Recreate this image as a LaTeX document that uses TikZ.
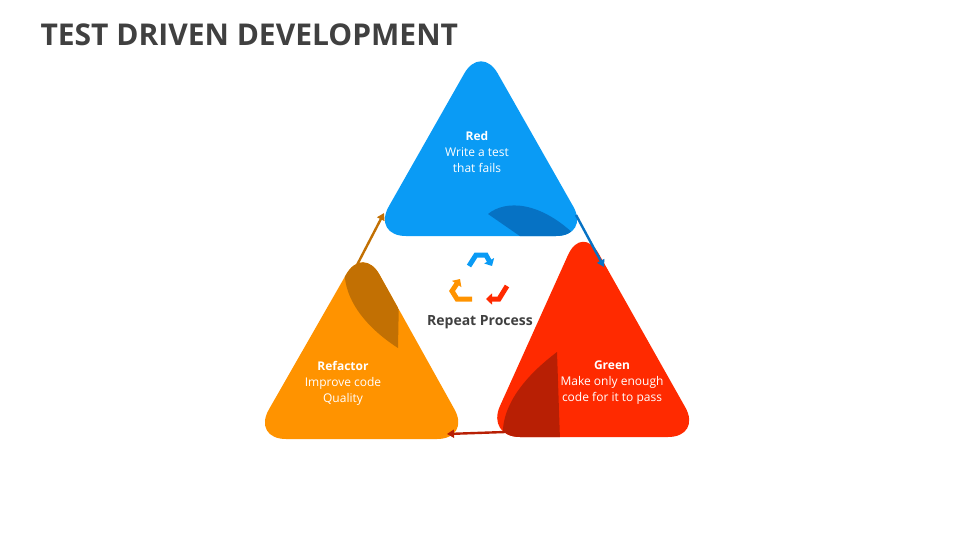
\documentclass[tikz,border=0pt]{standalone}
\usepackage{fontspec}
\setmainfont{Open Sans}
\usetikzlibrary{arrows.meta}
\definecolor{tblue}{HTML}{0A9BF5}
\definecolor{dblue}{HTML}{0672C4}
\definecolor{tred}{HTML}{FF2A00}
\definecolor{dred}{HTML}{B81F04}
\definecolor{tora}{HTML}{FF9300}
\definecolor{dora}{HTML}{C27003}
\definecolor{ttitle}{HTML}{404040}
\tikzset{
  tri/.style={rounded corners=34pt},
  lbl/.style={text=white, align=center, font=\fontsize{12}{16}\selectfont},
  link/.style={line width=2.4pt, -{Triangle[length=7pt,width=8pt]}},
  rec/.style={line width=5pt, -{Triangle[length=6pt,width=11pt]}}
}
\begin{document}
\begin{tikzpicture}[x=1pt,y=-1pt]
\useasboundingbox (0,0) rectangle (960,540);
\node[anchor=west, text=ttitle, font=\bfseries\fontsize{30}{32}\selectfont] (title) at (37,35) {TEST DRIVEN DEVELOPMENT};
% red (top, blue)
\begin{scope}
  \path[tri,clip] (481,44) -- (590,236) -- (372,236) -- cycle;
  \fill[tblue] (300,40) rectangle (660,260);
  \fill[dblue] (578,238) .. controls (540,200) and (505,200) .. (488,214) -- (540,250) -- cycle;
\end{scope}
% green
\begin{scope}
  \path[tri,clip] (582,224) -- (702,437) -- (486,437) -- cycle;
  \fill[tred] (450,220) rectangle (720,450);
  \fill[dred] (557,352) .. controls (520,380) and (500,410) .. (503,440) -- (560,440) -- cycle;
\end{scope}
% refactor
\begin{scope}
  \path[tri,clip] (363,245) -- (471,439) -- (252,439) -- cycle;
  \fill[tora] (230,240) rectangle (490,450);
  \fill[dora] (345,262) .. controls (340,300) and (370,330) .. (398,348) -- (400,240) -- cycle;
\end{scope}
\node[lbl] (red) at (477,152) {\textbf{Red}\\Write a test\\that fails};
\node[lbl] (green) at (612,383) {\textbf{Green}\\Make only enough\\code for it to pass};
\node[lbl] (refactor) at (343,383) {\textbf{Refactor}\\Improve code\\Quality};
\coordinate (a1) at (576,215); \coordinate (a2) at (604,267);
\coordinate (b1) at (505,432); \coordinate (b2) at (447,434);
\coordinate (c1) at (357,265); \coordinate (c2) at (384,213);
\draw[link, dblue] (a1) -- (a2);
\draw[link, dred] (b1) -- (b2);
\draw[link, dora] (c1) -- (c2);
% recycle icon
\draw[rec, tblue] (469,266) -- (476,255) -- (486,255) -- (492,266);
\draw[rec, tred] (507,286) -- (499,299) -- (486,299);
\draw[rec, tora] (472,299) -- (457,299) -- (452,291) -- (460,279);
\node[text=ttitle, font=\bfseries\fontsize{14}{16}\selectfont] (rep) at (480,322) {Repeat Process};
\end{tikzpicture}
\end{document}
